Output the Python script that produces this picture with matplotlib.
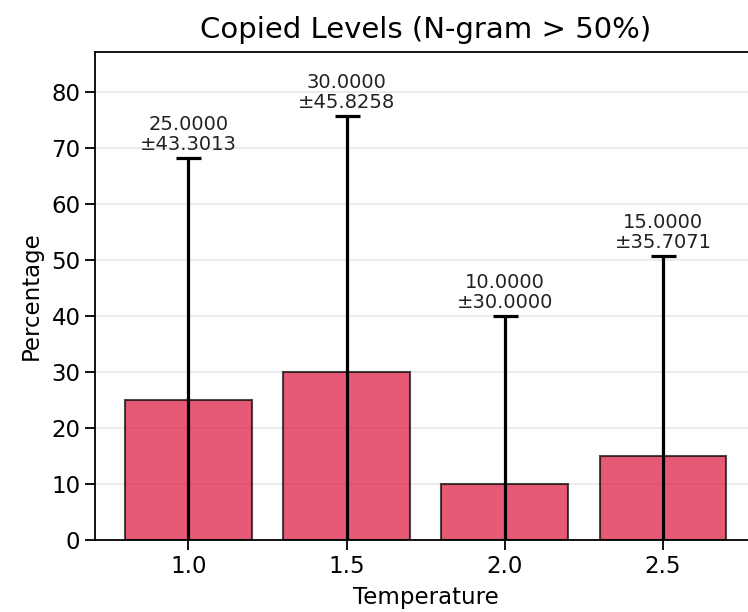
import matplotlib
matplotlib.use("Agg")
import matplotlib.pyplot as plt

# Дані з графіка
temperatures = ["1.0", "1.5", "2.0", "2.5"]
means = [25.0, 30.0, 10.0, 15.0]
stds = [43.3013, 45.8258, 30.0, 35.7071]

x_pos = [1.0, 1.5, 2.0, 2.5]

fig = plt.figure(figsize=(7.48, 6.12), dpi=100)
ax = fig.add_axes([0.127, 0.1176, 0.884, 0.7974])

ax.grid(axis="y", color="#dddddd", linewidth=1.2, alpha=0.7)
ax.set_axisbelow(True)

ax.bar(x_pos, means, width=0.4, color="crimson", alpha=0.7,
       edgecolor="black", linewidth=1.5)
ax.errorbar(x_pos, means, yerr=stds, fmt="none", ecolor="black",
            elinewidth=2.3, capsize=9, capthick=2.3)

top = max(m + s for m, s in zip(means, stds))
for xp, m, s in zip(x_pos, means, stds):
    ax.annotate(f"{m:.4f}\n±{s:.4f}", xy=(xp, m + s), xytext=(0, 3),
                textcoords="offset points", ha="center", va="bottom",
                fontsize=14, color="#222222", linespacing=1.05)

ax.set_ylim(0, top * 1.15)
ax.set_xticks(x_pos)
ax.set_xticklabels(temperatures)
ax.tick_params(labelsize=16.5, length=7, width=1.3)
ax.set_xlabel("Temperature", fontsize=16.5, labelpad=6)
ax.set_ylabel("Percentage", fontsize=16.5, labelpad=6)
ax.set_title("Copied Levels (N-gram > 50%)", fontsize=21, pad=10)
for sp in ax.spines.values():
    sp.set_linewidth(1.3)

fig.savefig("out.png", dpi=100)
